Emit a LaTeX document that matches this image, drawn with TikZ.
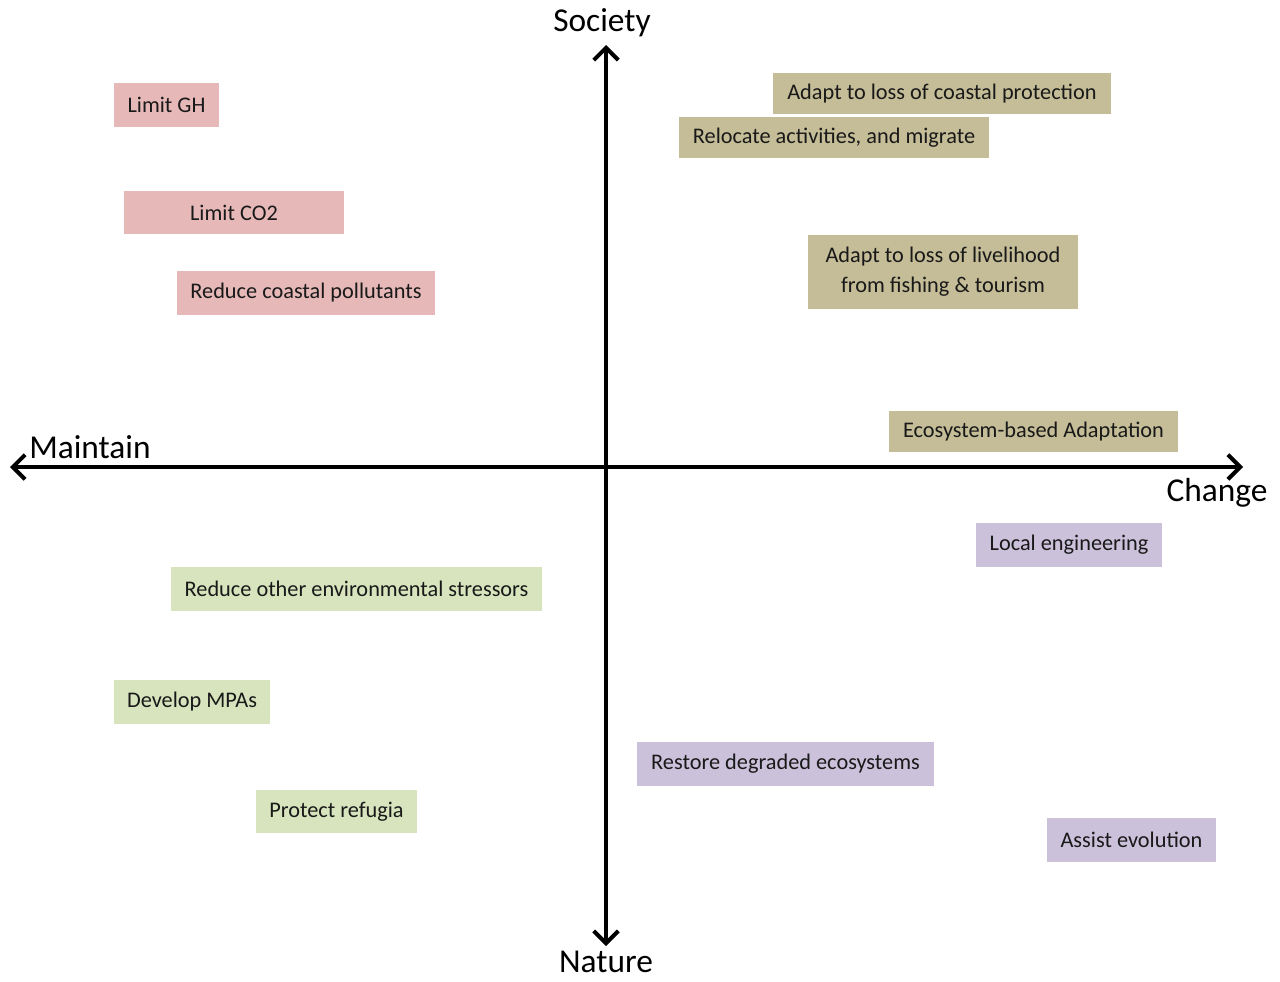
\documentclass[tikz,border=0pt]{standalone}
\usepackage{fontspec}
\setmainfont{Carlito}
\usepackage{tikz}
\usetikzlibrary{arrows.meta,positioning}

\definecolor{ghpink}{HTML}{E6B9B8}
\definecolor{soctan}{HTML}{C4BD97}
\definecolor{natgreen}{HTML}{D7E4BD}
\definecolor{chglilac}{HTML}{CCC1DA}

\begin{document}
\begin{tikzpicture}[
    x=0.02cm, y=-0.02cm,
    box/.style={rectangle, inner sep=0pt, text centered, font=\fontsize{12.7}{17}\selectfont, text=black!90},
    pinkbox/.style={box, fill=ghpink, minimum height=0.88cm},
    tanbox/.style={box, fill=soctan, minimum height=0.82cm},
    greenbox/.style={box, fill=natgreen, minimum height=0.88cm},
    lilacbox/.style={box, fill=chglilac, minimum height=0.88cm},
    axislabel/.style={inner sep=0pt, font=\fontsize{19}{22}\selectfont},
    axis/.style={{Straight Barb[length=7pt, width=14pt]}-{Straight Barb[length=7pt, width=14pt]}, line width=2.3pt}
]
    \useasboundingbox (0,0) rectangle (1280,981);

    % axes
    \coordinate (west) at (10,467);
    \coordinate (east) at (1243,467);
    \coordinate (north) at (606,45);
    \coordinate (south) at (606,946);
    \draw[axis] (west) -- (east);
    \draw[axis] (south) -- (north);

    \node[axislabel] (society) at (602,23) {Society};
    \node[axislabel] (nature) at (606,962) {Nature};
    \node[axislabel] (maintain) at (90,447) {Maintain};
    \node[axislabel] (change) at (1217,493) {Change};

    % maintain / society
    \node[pinkbox, minimum width=2.1cm] (gh) at (166.5,105) {Limit GH};
    \node[pinkbox, minimum width=4.4cm, minimum height=0.86cm] (co2) at (234,212.5) {Limit CO2};
    \node[pinkbox, minimum width=5.16cm] (pollutants) at (306,293) {Reduce coastal pollutants};

    % change / society
    \node[tanbox, minimum width=6.76cm] (coastprot) at (942,93.5) {Adapt to loss of coastal protection};
    \node[tanbox, minimum width=6.2cm] (relocate) at (834,137.5) {Relocate activities, and migrate};
    \node[tanbox, minimum width=5.4cm, minimum height=1.48cm, align=center] (livelihood) at (943,272)
        {Adapt to loss of livelihood\\ from fishing \& tourism};
    \node[tanbox, minimum width=5.78cm] (eba) at (1033.5,431.5) {Ecosystem-based Adaptation};

    % maintain / nature
    \node[greenbox, minimum width=7.42cm] (stressors) at (356.5,589) {Reduce other environmental stressors};
    \node[greenbox, minimum width=3.12cm] (mpas) at (192,702) {Develop MPAs};
    \node[greenbox, minimum width=3.22cm, minimum height=0.86cm] (refugia) at (336.5,811.5) {Protect refugia};

    % change / nature
    \node[lilacbox, minimum width=3.72cm] (localeng) at (1069,545) {Local engineering};
    \node[lilacbox, minimum width=5.94cm] (restore) at (785.5,764) {Restore degraded ecosystems};
    \node[lilacbox, minimum width=3.38cm] (evolution) at (1131.5,840) {Assist evolution};
\end{tikzpicture}
\end{document}
